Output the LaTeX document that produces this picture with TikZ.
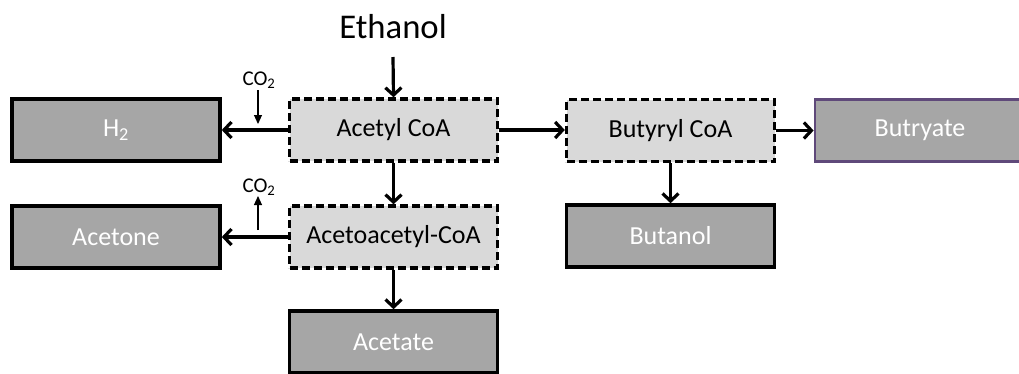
\documentclass[tikz,border=0pt]{standalone}
\usepackage{fontspec}
\setmainfont{Carlito}
\usetikzlibrary{arrows.meta}
\definecolor{darkbox}{HTML}{A6A6A6}
\definecolor{lightbox}{HTML}{D9D9D9}
\definecolor{purpleedge}{HTML}{5F497A}
\tikzset{
  product/.style={draw=black, line width=3.6pt, fill=darkbox, text=white, minimum width=208pt, minimum height=62pt, inner sep=0pt, font=\fontsize{26}{30}\selectfont},
  inter/.style={draw=black, line width=3.4pt, dash pattern=on 8pt off 4pt, fill=lightbox, text=black, minimum width=208pt, minimum height=62pt, inner sep=0pt, font=\fontsize{26}{30}\selectfont},
  flow/.style={line width=3.2pt, -{Straight Barb[length=7.5pt,width=16pt,line width=3.2pt]}},
  gas/.style={line width=1.1pt, -{Triangle[length=9pt,width=8pt]}},
  gaslabel/.style={font=\fontsize{21}{24}\selectfont, inner sep=0pt},
}
\begin{document}
\begin{tikzpicture}[x=1pt,y=-1pt]
\useasboundingbox (0,0) rectangle (1019,373);
% nodes
\node[font=\fontsize{34.7}{40}\selectfont, inner sep=0pt] (eth) at (393,27) {Ethanol};
\node[inter] (acetyl) at (393.5,130) {Acetyl CoA};
\node[inter] (butyryl) at (670.5,130.5) {Butyryl CoA};
\node[inter] (acac) at (393.5,237) {Acetoacetyl-CoA};
\node[product] (h2) at (116,130) {H\textsubscript{2}};
\node[product] (acetone) at (116,237) {Acetone};
\node[product] (butanol) at (670.5,236) {Butanol};
\node[product] (acetate) at (393.5,342) {Acetate};
\node[product, draw=purpleedge, line width=2.8pt, minimum width=210pt] (butryate) at (920,130.5) {Butryate};
\node[gaslabel] (co2a) at (259,80) {CO\textsubscript{2}};
\node[gaslabel] (co2b) at (259,187) {CO\textsubscript{2}};
\coordinate (ethend) at (393,57);
\coordinate (gasa) at (258,124);
\coordinate (gasb) at (258,230);
% connectors
\draw[flow] (ethend) -- (acetyl.north);
\draw[flow] (acetyl.west) -- (h2.east);
\draw[flow] (acetyl.east) -- (butyryl.west |- acetyl.east);
\draw[flow] (butyryl.east) -- (butryate.west);
\draw[flow] (butyryl.south) -- (butanol.north);
\draw[flow] (acetyl.south) -- (acac.north);
\draw[flow] (acac.west) -- (acetone.east);
\draw[flow] (acac.south) -- (acetate.north);
\draw[gas] (258,90) -- (gasa);
\draw[gas] (gasb) -- (258,196);
\end{tikzpicture}
\end{document}
